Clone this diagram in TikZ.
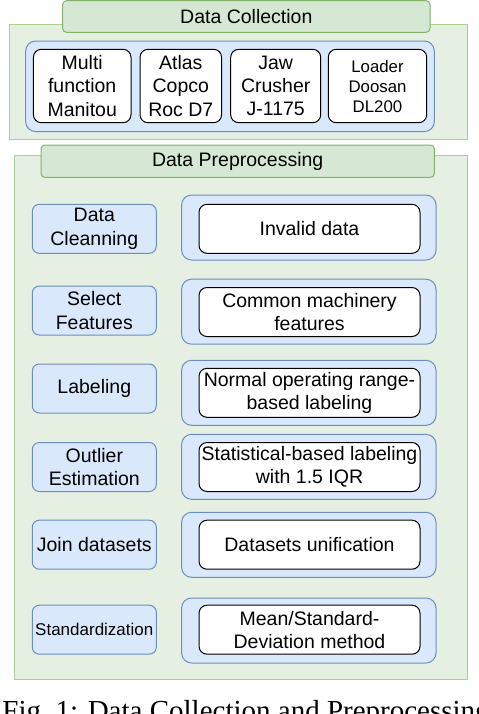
\documentclass[tikz,border=0pt]{standalone}
\usepackage{fontspec}
\setmainfont{Liberation Sans}
\newfontfamily\capfont{Liberation Serif}
\definecolor{grnfill}{RGB}{213,232,212}
\definecolor{grnline}{RGB}{130,179,102}
\definecolor{grnpale}{RGB}{229,240,227}
\definecolor{grnpaleline}{RGB}{170,208,152}
\definecolor{blufill}{RGB}{218,232,252}
\definecolor{bluline}{RGB}{108,142,191}
\tikzset{>=latex}

\begin{document}
\begin{tikzpicture}[x=0.5pt,y=-0.5pt,
  every node/.style={font=\fontsize{9.75}{11.6}\selectfont,align=center,inner sep=1pt},
  panel/.style={draw=grnpaleline,fill=grnpale,line width=0.5pt},
  title/.style={draw=grnline,fill=grnfill,rounded corners=2pt,line width=0.5pt},
  group/.style={draw=bluline,fill=blufill,rounded corners=5pt,line width=0.5pt},
  stage/.style={draw=bluline,fill=blufill,rounded corners=3.5pt,line width=0.5pt,minimum width=62pt,minimum height=24.5pt},
  item/.style={draw=black,fill=white,rounded corners=4pt,line width=0.5pt}]
\clip (0,0) rectangle (478,714);
\fill[white] (0,0) rectangle (478,714);
% data collection
\node[panel,minimum width=229.3pt,minimum height=57.3pt] (colpanel) at (238.3,81.7) {};
\node[title,minimum width=183.7pt,minimum height=15.8pt] (coltitle) at (246.3,16.5) {Data Collection};
\node[group,minimum width=204.3pt,minimum height=45.3pt] (colgrp) at (230,86.3) {};
\node[item,minimum width=48.8pt,minimum height=36.7pt] (manitou) at (82.2,86) {Multi\\function\\Manitou};
\node[item,minimum width=40.8pt,minimum height=36.7pt] (atlas) at (180.8,86) {Atlas\\Copco\\Roc D7};
\node[item,minimum width=45pt,minimum height=36.7pt] (jaw) at (275.7,86) {Jaw\\Crusher\\J-1175};
\node[item,minimum width=49.2pt,minimum height=36.7pt,font=\fontsize{8.4}{10}\selectfont] (loader) at (377.5,86) {Loader\\Doosan\\DL200};
% data preprocessing
\node[panel,minimum width=226.7pt,minimum height=262pt] (prepanel) at (241,417) {};
\node[title,minimum width=196.7pt,minimum height=16.2pt] (pretitle) at (237.7,161.2) {Data Preprocessing};
\node[stage] (clean) at (94.3,228.8) {Data\\Cleanning};
\node[group,minimum width=127.2pt,minimum height=32.5pt] (cleangrp) at (308.8,227.5) {};
\node[item,minimum width=110.5pt,minimum height=24.5pt] (cleanitem) at (309.5,228.8) {Invalid data};
\node[stage] (select) at (94.3,310.5) {Select\\Features};
\node[group,minimum width=127.2pt,minimum height=32.5pt] (selectgrp) at (308.8,311.7) {};
\node[item,minimum width=110.5pt,minimum height=24.5pt] (selectitem) at (309.5,312) {Common machinery\\features};
\node[stage] (label) at (94.3,388.5) {Labeling};
\node[group,minimum width=127.2pt,minimum height=32.5pt] (labelgrp) at (308.8,392.8) {};
\node[item,minimum width=110.5pt,minimum height=24.5pt] (labelitem) at (309.5,392.8) {Normal operating range-\\based labeling};
\node[stage] (outlier) at (94.3,467) {Outlier\\Estimation};
\node[group,minimum width=127.2pt,minimum height=32.5pt] (outliergrp) at (308.8,466.8) {};
\node[item,minimum width=110.5pt,minimum height=24.5pt] (outlieritem) at (309.5,467) {Statistical-based labeling\\with 1.5 IQR};
\node[stage] (join) at (94.3,544.7) {Join datasets};
\node[group,minimum width=127.2pt,minimum height=32.5pt] (joingrp) at (308.8,544.8) {};
\node[item,minimum width=110.5pt,minimum height=24.5pt] (joinitem) at (309.5,544.7) {Datasets unification};
\node[stage,font=\fontsize{8.5}{10}\selectfont] (standard) at (94.3,629.7) {Standardization};
\node[group,minimum width=127.2pt,minimum height=32.5pt] (standardgrp) at (308.8,630.5) {};
\node[item,minimum width=110.5pt,minimum height=24.5pt] (standarditem) at (309.5,629.7) {Mean/Standard-\\Deviation method};
% caption
\node[font=\capfont\fontsize{14.5}{17}\selectfont,anchor=base west,inner sep=0pt] (caption) at (2,720) {Fig.\ 1: Data Collection and Preprocessing};
\end{tikzpicture}
\end{document}
